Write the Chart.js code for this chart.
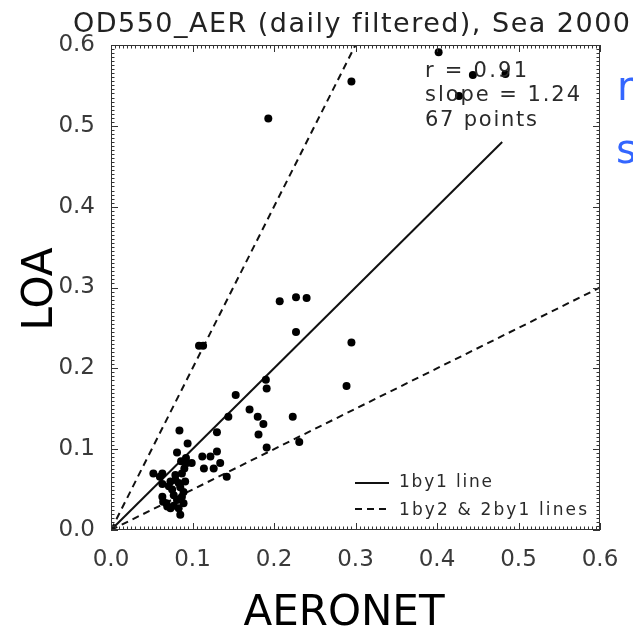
<!DOCTYPE html>
<html>
<head>
<meta charset="utf-8">
<script src="https://cdn.jsdelivr.net/npm/chart.js@4.4.1/dist/chart.umd.min.js"></script>
<style>
  html, body { margin: 0; padding: 0; background: #fff; }
  canvas { display: block; }
</style>
</head>
<body>
<canvas id="scatterChart" width="633" height="629"></canvas>
<script>
// AERONET vs LOA daily values
const aeronet = [0.402, 0.444, 0.484, 0.427, 0.295, 0.193, 0.207, 0.227, 0.240, 0.227,
                 0.295, 0.108, 0.113, 0.190, 0.191, 0.289, 0.153, 0.170, 0.144, 0.180,
                 0.187, 0.223, 0.181, 0.231, 0.191, 0.130, 0.084, 0.094, 0.112, 0.122,
                 0.130, 0.134, 0.114, 0.126, 0.142, 0.081, 0.086, 0.093, 0.099, 0.052,
                 0.063, 0.079, 0.087, 0.090, 0.079, 0.091, 0.063, 0.073, 0.071, 0.083,
                 0.075, 0.077, 0.063, 0.064, 0.068, 0.081, 0.087, 0.089, 0.083, 0.073,
                 0.085, 0.089, 0.085, 0.069, 0.077, 0.092, 0.060];
const loa = [0.591, 0.563, 0.564, 0.537, 0.555, 0.509, 0.283, 0.288, 0.287, 0.245,
             0.232, 0.228, 0.228, 0.186, 0.175, 0.178, 0.167, 0.149, 0.140, 0.140,
             0.131, 0.140, 0.118, 0.109, 0.102, 0.121, 0.123, 0.107, 0.091, 0.091,
             0.097, 0.083, 0.076, 0.076, 0.066, 0.096, 0.085, 0.083, 0.083, 0.070,
             0.070, 0.068, 0.070, 0.076, 0.062, 0.060, 0.057, 0.060, 0.054, 0.058,
             0.050, 0.043, 0.041, 0.035, 0.033, 0.037, 0.041, 0.033, 0.027, 0.027,
             0.019, 0.047, 0.053, 0.029, 0.030, 0.089, 0.066];

// reference lines
const oneByOneX = [0, 0.48];
const oneByOneY = [0, 0.48];
const twoByOneX = [0, 0.3];
const twoByOneY = [0, 0.6];
const oneByTwoX = [0, 0.6];
const oneByTwoY = [0, 0.3];

const axisMin = 0;
const axisMax = 0.6;
const axisStep = 0.1;
const minorStep = 0.005;

const titleText = 'OD550_AER (daily filtered), Sea 2000';
const xTitle = 'AERONET';
const yTitle = 'LOA';
const statsLines = ['r = 0.91', 'slope = 1.24', '67 points'];
const legendLabels = ['1by1 line', '1by2 & 2by1 lines'];
const sideNotes = ['r = 0.91', 'slope = 1.24'];

function toPoints(xs, ys) {
    return xs.map(function (x, i) { return { x: x, y: ys[i] }; });
}

// draw a string stretched to a width by letter spacing (IDL fonts run wide)
function fitText(ctx, s, x, y, size, width) {
    ctx.font = size + 'px "DejaVu Sans"';
    ctx.letterSpacing = '0px';
    var w = ctx.measureText(s).width;
    var sp = width ? (width - w) / (s.length - 1) : 0;
    ctx.letterSpacing = sp + 'px';
    ctx.fillText(s, x, y);
    ctx.letterSpacing = '0px';
}

const framePlugin = {
    id: 'frame',
    afterDraw: function (chart) {
        var ctx = chart.ctx;
        var a = chart.chartArea;
        var xs = chart.scales.x, ys = chart.scales.y;
        ctx.save();

        // box and inward ticks on all four sides
        ctx.strokeStyle = '#333';
        ctx.lineWidth = 1;
        ctx.strokeRect(a.left + 0.5, a.top + 0.5, a.right - a.left - 1, a.bottom - a.top - 1);
        ctx.beginPath();
        var n = Math.round((axisMax - axisMin) / minorStep);
        for (var i = 0; i <= n; i++) {
            var v = axisMin + i * minorStep;
            var len = (i % 20 === 0) ? 7 : 3.5;
            var px = Math.round(xs.getPixelForValue(v)) + 0.5;
            ctx.moveTo(px, a.bottom); ctx.lineTo(px, a.bottom - len);
            ctx.moveTo(px, a.top); ctx.lineTo(px, a.top + len);
            var py = Math.round(ys.getPixelForValue(v)) + 0.5;
            ctx.moveTo(a.left, py); ctx.lineTo(a.left + len, py);
            ctx.moveTo(a.right, py); ctx.lineTo(a.right - len, py);
        }
        ctx.stroke();

        // title
        ctx.fillStyle = '#222';
        ctx.textAlign = 'left';
        ctx.textBaseline = 'alphabetic';
        fitText(ctx, titleText, 73, 32, 27, 557);

        // stats block
        ctx.fillStyle = '#2a2a2a';
        fitText(ctx, statsLines[0], 425, 77, 21, 102);
        fitText(ctx, statsLines[1], 425, 101, 21, 155);
        fitText(ctx, statsLines[2], 425, 126, 21, 112);

        // legend, styled from the line datasets
        var solid = chart.data.datasets[1], dash = chart.data.datasets[2];
        ctx.lineWidth = solid.borderWidth;
        ctx.strokeStyle = solid.borderColor;
        ctx.beginPath(); ctx.moveTo(355, 483); ctx.lineTo(389, 483); ctx.stroke();
        ctx.setLineDash(dash.borderDash);
        ctx.strokeStyle = dash.borderColor;
        ctx.beginPath(); ctx.moveTo(355, 509); ctx.lineTo(389, 509); ctx.stroke();
        ctx.setLineDash([]);
        fitText(ctx, legendLabels[0], 399, 487, 17, 93);
        fitText(ctx, legendLabels[1], 399, 515, 17, 188);

        // axis titles
        ctx.fillStyle = '#000';
        ctx.textAlign = 'center';
        ctx.font = '42px "DejaVu Sans"';
        ctx.fillText(xTitle, 344, 625);
        ctx.save();
        ctx.translate(52, 289);
        ctx.rotate(-Math.PI / 2);
        ctx.fillText(yTitle, 0, 0);
        ctx.restore();

        // blue slide text cut by the right edge
        ctx.fillStyle = '#3366ff';
        ctx.textAlign = 'left';
        ctx.font = '40px "DejaVu Sans"';
        ctx.fillText(sideNotes[0], 617, 100);
        ctx.fillText(sideNotes[1], 616, 163);

        ctx.restore();
    }
};

function renderChart() {
    var ctx = document.getElementById('scatterChart').getContext('2d');
    var tickFont = { family: 'DejaVu Sans', size: 23 };
    new Chart(ctx, {
        type: 'scatter',
        data: {
            datasets: [{
                label: 'daily',
                data: toPoints(aeronet, loa),
                backgroundColor: '#000',
                borderWidth: 0,
                pointRadius: 4,
                pointHoverRadius: 4
            }, {
                label: '1by1 line',
                data: toPoints(oneByOneX, oneByOneY),
                showLine: true,
                pointRadius: 0,
                borderColor: '#111',
                borderWidth: 2
            }, {
                label: '2by1 line',
                data: toPoints(twoByOneX, twoByOneY),
                showLine: true,
                pointRadius: 0,
                borderColor: '#111',
                borderWidth: 2,
                borderDash: [7, 5]
            }, {
                label: '1by2 line',
                data: toPoints(oneByTwoX, oneByTwoY),
                showLine: true,
                pointRadius: 0,
                borderColor: '#111',
                borderWidth: 2,
                borderDash: [7, 5]
            }]
        },
        options: {
            responsive: false,
            animation: false,
            devicePixelRatio: 1,
            layout: { padding: { top: 45, right: 33, left: 0, bottom: 0 } },
            plugins: {
                legend: { display: false },
                tooltip: { enabled: false }
            },
            scales: {
                x: {
                    type: 'linear',
                    min: axisMin,
                    max: axisMax,
                    grid: { display: false },
                    border: { display: false },
                    ticks: {
                        stepSize: axisStep,
                        padding: 8,
                        color: '#3a3a3a',
                        font: tickFont,
                        maxRotation: 0,
                        callback: function (v) { return v.toFixed(1); }
                    },
                    afterFit: function (s) { s.height = 99; }
                },
                y: {
                    type: 'linear',
                    min: axisMin,
                    max: axisMax,
                    grid: { display: false },
                    border: { display: false },
                    ticks: {
                        stepSize: axisStep,
                        padding: 8,
                        color: '#3a3a3a',
                        font: tickFont,
                        callback: function (v) { return v.toFixed(1); }
                    },
                    afterFit: function (s) { s.width = 111; }
                }
            }
        },
        plugins: [framePlugin]
    });
}

renderChart();
</script>
</body>
</html>
